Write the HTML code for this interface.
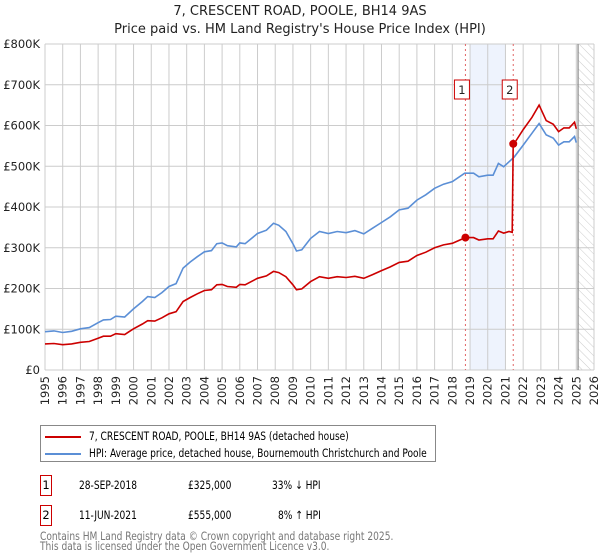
<!DOCTYPE html>
<html><head><meta charset="utf-8"><style>
body{margin:0;background:#fff;font-family:"DejaVu Sans","Liberation Sans",sans-serif;}
#wrap{position:relative;width:600px;height:560px;overflow:hidden;}
.t{position:absolute;white-space:nowrap;}
.c{display:inline-block;white-space:nowrap;transform:scaleX(0.79);transform-origin:0 50%;}
</style></head><body>
<div id="wrap">
<div class="t" style="left:0;width:600px;text-align:center;top:3px;font-size:13px;line-height:18px;color:#222">7, CRESCENT ROAD, POOLE, BH14 9AS<br>Price paid vs. HM Land Registry's House Price Index (HPI)</div>
<svg id="chart" width="600" height="420" style="position:absolute;left:0;top:0"></svg>
<div style="position:absolute;left:40px;top:425px;width:394px;height:35px;border:1px solid #888;font-size:11.5px;">
 <div style="position:absolute;left:4px;top:3px;white-space:nowrap"><span style="display:inline-block;width:36px;height:2px;background:#cc0000;vertical-align:middle;margin-right:8px"></span><span class="c">7, CRESCENT ROAD, POOLE, BH14 9AS (detached house)</span></div>
 <div style="position:absolute;left:4px;top:20px;white-space:nowrap"><span style="display:inline-block;width:36px;height:2px;background:#5b8fd6;vertical-align:middle;margin-right:8px"></span><span class="c">HPI: Average price, detached house, Bournemouth Christchurch and Poole</span></div>
</div>
<div style="position:absolute;left:40px;top:475px;font-size:11.5px;width:400px;height:22px">
 <span style="position:absolute;left:0;top:0;width:10px;height:19px;border:1px solid #cc0000;text-align:center;line-height:19px">1</span>
 <span class="t" style="left:39px;top:3px"><span class="c">28-SEP-2018</span></span><span class="t" style="left:148px;top:3px"><span class="c">£325,000</span></span><span class="t" style="left:232px;top:3px"><span class="c">33% ↓ HPI</span></span></div>
<div style="position:absolute;left:40px;top:505px;font-size:11.5px;width:400px;height:22px">
 <span style="position:absolute;left:0;top:0;width:10px;height:19px;border:1px solid #cc0000;text-align:center;line-height:19px">2</span>
 <span class="t" style="left:39px;top:3px"><span class="c">11-JUN-2021</span></span><span class="t" style="left:148px;top:3px"><span class="c">£555,000</span></span><span class="t" style="left:238px;top:3px"><span class="c">8% ↑ HPI</span></span></div>
<div class="t" style="left:40px;top:531px;font-size:11.5px;line-height:10px;color:#777"><span class="c">Contains HM Land Registry data © Crown copyright and database right 2025.</span><br><span class="c">This data is licensed under the Open Government Licence v3.0.</span></div>
</div>
<script>
const hpiYears=[1995,1995.5,1996,1996.5,1997,1997.5,1998,1998.3,1998.7,1999,1999.5,2000,2000.5,2000.8,2001.2,2001.6,2002,2002.4,2002.8,2003.2,2003.6,2004,2004.4,2004.7,2005,2005.3,2005.8,2006,2006.3,2007,2007.5,2007.9,2008.2,2008.6,2009,2009.2,2009.5,2010,2010.5,2011,2011.5,2012,2012.5,2013,2013.5,2014,2014.5,2015,2015.5,2016,2016.5,2017,2017.5,2018,2018.7,2019.2,2019.5,2020,2020.3,2020.6,2020.9,2021.2,2021.5,2022,2022.5,2022.9,2023.3,2023.7,2024,2024.3,2024.6,2024.9,2025.0];
const hpiValues=[94,96,92,95,101,104,116,123,124,132,130,150,168,180,178,190,205,212,250,265,278,290,293,310,312,305,302,312,310,335,343,360,355,340,310,292,295,323,340,335,340,337,342,334,348,362,376,393,397,417,430,446,456,462,483,483,474,478,478,507,499,511,523,552,581,605,577,569,552,560,560,573,558];
const redYears=[1995,1995.5,1996,1996.5,1997,1997.5,1998,1998.3,1998.7,1999,1999.5,2000,2000.5,2000.8,2001.2,2001.6,2002,2002.4,2002.8,2003.2,2003.6,2004,2004.4,2004.7,2005,2005.3,2005.8,2006,2006.3,2007,2007.5,2007.9,2008.2,2008.6,2009,2009.2,2009.5,2010,2010.5,2011,2011.5,2012,2012.5,2013,2013.5,2014,2014.5,2015,2015.5,2016,2016.5,2017,2017.5,2018,2018.74,2019.2,2019.5,2020,2020.3,2020.6,2020.9,2021.2,2021.38,2021.44,2021.5,2022,2022.5,2022.9,2023.3,2023.7,2024,2024.3,2024.6,2024.9,2025.0];
const redValues=[64,65,62,64,68,70,78,83,83,89,87,101,113,121,120,128,138,143,168,178,187,195,197,209,210,205,203,210,209,225,231,242,239,229,209,197,199,217,229,225,229,227,230,225,234,244,253,264,267,281,289,300,307,311,325,325,319,322,322,341,336,340,338,555,556,590,620,650,612,603,585,594,594,608,592];
const saleYears=[2018.74,2021.44];
const saleValues=[325,555];
const saleLabels=["1","2"];
const yTicks=[0,100,200,300,400,500,600,700,800];
const yTickLabels=["£0","£100K","£200K","£300K","£400K","£500K","£600K","£700K","£800K"];
const xTicks=[1995,1996,1997,1998,1999,2000,2001,2002,2003,2004,2005,2006,2007,2008,2009,2010,2011,2012,2013,2014,2015,2016,2017,2018,2019,2020,2021,2022,2023,2024,2025,2026];
const X0=45,X1=594,Y0=370,Y1=44;
const xs=y=>X0+(y-1995)/31*(X1-X0);
const ys=v=>Y0-v/800*(Y0-Y1);
const svg=document.getElementById('chart');const NS='http://www.w3.org/2000/svg';
function mk(t,a,p){const e=document.createElementNS(NS,t);for(const k in a)e.setAttribute(k,a[k]);(p||svg).appendChild(e);return e;}
const defs=mk('defs',{});
const pat=mk('pattern',{id:'hatch',width:6,height:6,patternUnits:'userSpaceOnUse',patternTransform:'rotate(-45)'},defs);
mk('line',{x1:0,y1:0,x2:0,y2:6,stroke:'#ccc','stroke-width':1},pat);
let r=mk('rect',{x:xs(2019),y:Y1,width:xs(2021)-xs(2019),height:Y0-Y1,fill:'#eef3fd'});

r=mk('rect',{x:xs(2025.1),y:Y1,width:X1-xs(2025.1),height:Y0-Y1,fill:'url(#hatch)'});

xTicks.forEach(t=>{const l=mk('line',{x1:xs(t),x2:xs(t),y1:Y1,y2:Y0,stroke:'#ccc'});
 const tx=mk('text',{x:0,y:0,transform:`translate(${xs(t)+4},${Y0+6}) rotate(-90)`,'text-anchor':'end','font-size':11.5,fill:'#222'});tx.textContent=t;});
yTicks.forEach((t,i)=>{const l=mk('line',{x1:X0,x2:X1,y1:ys(t),y2:ys(t),stroke:'#ccc'});
 const tx=mk('text',{x:X0-5,y:ys(t)+4,'text-anchor':'end','font-size':11.5,fill:'#222'});tx.textContent=yTickLabels[i];});
let vl=mk('line',{x1:xs(2025.1),x2:xs(2025.1),y1:Y1,y2:Y0,stroke:'#888','stroke-width':1.2});
saleYears.forEach((s,i)=>{const l=mk('line',{x1:xs(s),x2:xs(s),y1:Y1,y2:Y0,stroke:'#e06666','stroke-dasharray':'2,3'});
 const g=mk('g',{});
 mk('rect',{x:xs(s)-11,y:80,width:15,height:19,fill:'#fff',stroke:'#cc0000'},g);
 const tx=mk('text',{x:xs(s)-3.5,y:94,'text-anchor':'middle','font-size':11.5,fill:'#222'},g);tx.textContent=saleLabels[i];});
function path(xa,va,col,name){const d=xa.map((y,i)=>(i?'L':'M')+xs(y).toFixed(1)+','+ys(va[i]).toFixed(1)).join('');const p=mk('path',{d,fill:'none',stroke:col,'stroke-width':1.6});}
path(hpiYears,hpiValues,'#5b8fd6','hpi-line');
path(redYears,redValues,'#cc0000','property-price-line');
saleYears.forEach((s,i)=>{const c=mk('circle',{cx:xs(s),cy:ys(saleValues[i]),r:4,fill:'#cc0000'});});
</script>
</body></html>
